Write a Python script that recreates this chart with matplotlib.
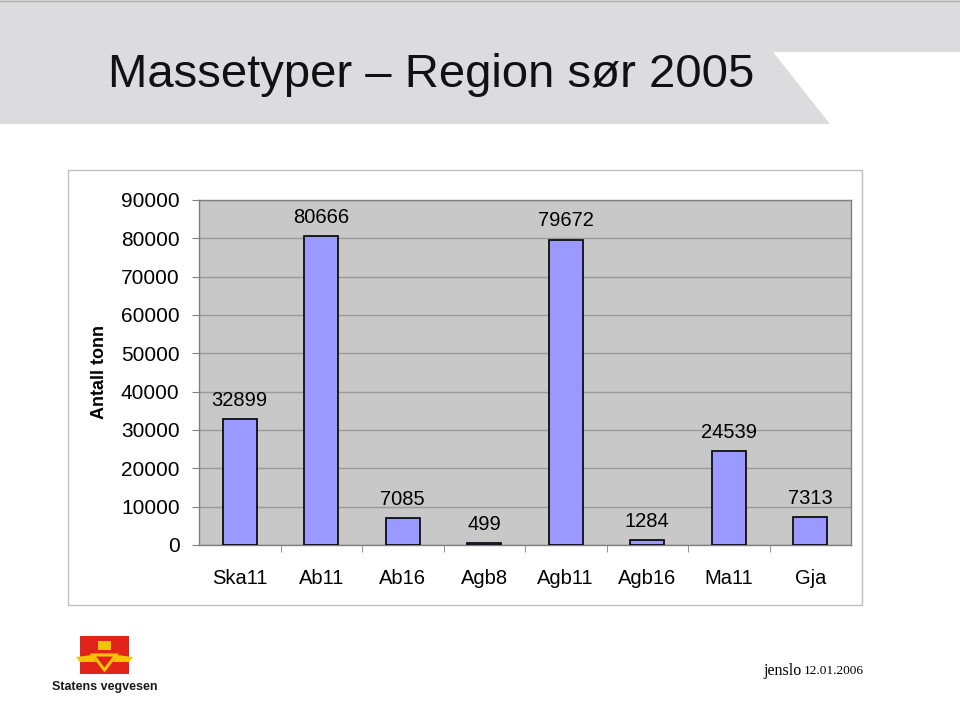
import matplotlib
matplotlib.use("Agg")
import matplotlib.pyplot as plt
from matplotlib.patches import Polygon, Rectangle

# data
categories = ["Ska11", "Ab11", "Ab16", "Agb8", "Agb11", "Agb16", "Ma11", "Gja"]
tonnes = [32899, 80666, 7085, 499, 79672, 1284, 24539, 7313]
yticks = list(range(0, 90001, 10000))

plt.rcParams['font.family'] = ['Liberation Sans', 'DejaVu Sans']

fig = plt.figure(figsize=(9.6, 7.2), dpi=100)

# background layer in pixel coords
bg = fig.add_axes([0, 0, 1, 1], zorder=-1)
bg.set_xlim(0, 960)
bg.set_ylim(720, 0)
bg.axis('off')

# title banner
bg.add_patch(Polygon([(0, 0), (960, 0), (960, 52), (773, 52), (830, 124), (0, 124)],
                     closed=True, facecolor='#dcdcde', edgecolor='none'))
bg.plot([0, 960], [1, 1], color='#b0b0b0', lw=1)
bg.text(108, 75, "Massetyper – Region sør 2005", fontsize=34, va='center', ha='left',
        color='#111111')

# chart frame
bg.add_patch(Rectangle((68, 170), 794, 435, facecolor='white', edgecolor='#c0c0c0', lw=1))

# logo
bg.add_patch(Rectangle((80, 636), 49, 38, facecolor='#e2231a', edgecolor='none'))
bg.add_patch(Polygon([(93, 655), (116, 655), (104.5, 670)], closed=True,
                     facecolor='none', edgecolor='#f5c400', lw=2.2))
bg.add_patch(Rectangle((98, 641), 13, 9, facecolor='#f5c400', edgecolor='none'))
bg.add_patch(Polygon([(76, 657), (92, 655), (96, 662), (80, 662)], closed=True,
                     facecolor='#f5c400', edgecolor='none'))
bg.add_patch(Polygon([(133, 657), (117, 655), (113, 662), (129, 662)], closed=True,
                     facecolor='#f5c400', edgecolor='none'))
bg.text(105, 687, "Statens vegvesen", fontsize=9, fontweight='bold', ha='center',
        va='center', color='#1a1a1a')

# footer
bg.text(763, 671, "jenslo", fontsize=11.5, family=['Liberation Serif'], va='center', ha='left')
bg.text(804, 671, "12.01.2006", fontsize=9.5, family=['Liberation Serif'], va='center', ha='left')

# main chart
ax = fig.add_axes([199 / 960, 1 - 545 / 720, 652 / 960, 345 / 720])
ax.set_facecolor('#c8c8c8')
x = list(range(len(categories)))
ax.bar(x, tonnes, width=0.42, color='#9999ff', edgecolor='black', linewidth=1.2, zorder=3)
for i, v in zip(x, tonnes):
    ax.annotate(str(v), (i, v), xytext=(0, 13.5), textcoords='offset points',
                ha='center', va='center', fontsize=14.5)

ax.set_xlim(-0.5, len(categories) - 0.5)
ax.set_ylim(0, 90000)
ax.set_yticks(yticks)
ax.set_yticklabels([str(t) for t in yticks], fontsize=15)
ax.set_xticks(x)
ax.set_xticklabels(categories, fontsize=14.5)
ax.set_xticks([i + 0.5 for i in x[:-1]], minor=True)
ax.tick_params(axis='x', which='major', length=0, pad=17)
ax.tick_params(axis='x', which='minor', length=5, color='#808080')
ax.tick_params(axis='y', length=5, color='#808080', pad=9)
ax.yaxis.grid(True, color='#9a9a9a', lw=1)
ax.set_axisbelow(True)
for s in ax.spines.values():
    s.set_color('#808080')
    s.set_linewidth(1)

fig.text(100 / 960, 1 - 372 / 720, "Antall tonn", rotation=90, fontsize=13,
         fontweight='bold', ha='center', va='center')

fig.savefig("out.png", dpi=100)
